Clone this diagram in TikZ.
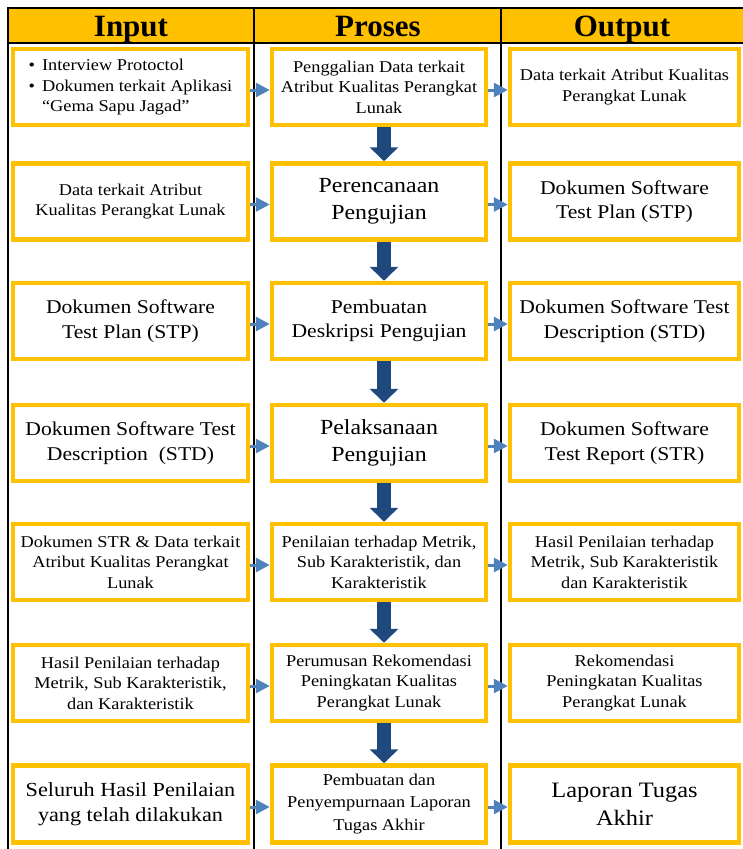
\documentclass[tikz,border=0pt]{standalone}
\usepackage{fontspec}
\setmainfont{Liberation Serif}[FakeStretch=1.11]
\newfontfamily\headfamily{Liberation Serif}
\usetikzlibrary{arrows.meta}
\definecolor{boxyellow}{HTML}{FFC000}
\definecolor{darkarrow}{HTML}{1F497D}
\definecolor{lightarrow}{HTML}{4F81BD}
\def\headfont{\headfamily\fontsize{31}{34}\selectfont\bfseries}
\def\smallfont{\fontsize{16.5}{20.5}\selectfont}
\def\midfont{\fontsize{19.5}{24.5}\selectfont}
\def\bigfont{\fontsize{21.5}{27}\selectfont}
\tikzset{cell/.style={draw=boxyellow, line width=4.5pt, fill=white, align=center,
        minimum height=76pt, inner sep=2pt, font=\smallfont},
    incol/.style={cell, minimum width=235pt},
    prcol/.style={cell, minimum width=214pt},
    outcol/.style={cell, minimum width=229pt},
    gridline/.style={draw=black, line width=2pt},
    sidearrow/.style={draw=lightarrow, line width=3pt, -{Triangle[length=14pt,width=14pt]}},
    downarrow/.style={draw=darkarrow, line width=14pt, -{Triangle[length=14pt,width=28pt]}}}

\begin{document}
\begin{tikzpicture}[x=1pt, y=-1pt]
    \useasboundingbox (0,0) rectangle (743,849);
    % table frame
    \fill[boxyellow] (8,8) rectangle (743,43);
    \draw[gridline] (8,849) -- (8,8) -- (743,8);
    \draw[gridline] (8,43) -- (743,43);
    \draw[gridline] (254,8) -- (254,849);
    \draw[gridline] (501,8) -- (501,849);
    \node[font=\headfont, anchor=base] (hIn) at (131,36) {Input};
    \node[font=\headfont, anchor=base] (hPr) at (378,36) {Proses};
    \node[font=\headfont, anchor=base] (hOut) at (622,36) {Output};
    % row 1
    \node[incol] (in1) at (130.5,87) {\begin{tabular}{@{}l@{\hspace{7pt}}l@{}}
        \textbullet & Interview Protoctol\\
        \textbullet & Dokumen terkait Aplikasi\\
        & “Gema Sapu Jagad”
        \end{tabular}};
    \node[prcol] (pr1) at (379,87) {Penggalian Data terkait\\Atribut Kualitas Perangkat\\Lunak};
    \node[outcol] (out1) at (624.5,87) {Data terkait Atribut Kualitas\\Perangkat Lunak};
    % row 2
    \node[incol] (in2) at (130.5,201.5) {Data terkait Atribut\\Kualitas Perangkat Lunak};
    \node[prcol, font=\bigfont] (pr2) at (379,201.5) {Perencanaan\\Pengujian};
    \node[outcol, font=\midfont] (out2) at (624.5,201.5) {Dokumen Software\\Test Plan (STP)};
    % row 3
    \node[incol, font=\midfont] (in3) at (130.5,321) {Dokumen Software\\Test Plan (STP)};
    \node[prcol, font=\midfont] (pr3) at (379,321) {Pembuatan\\Deskripsi Pengujian};
    \node[outcol, font=\midfont] (out3) at (624.5,321) {Dokumen Software Test\\Description (STD)};
    % row 4
    \node[incol, font=\midfont] (in4) at (130.5,443) {Dokumen Software Test\\Description\ \ (STD)};
    \node[prcol, font=\bigfont] (pr4) at (379,443) {Pelaksanaan\\Pengujian};
    \node[outcol, font=\midfont] (out4) at (624.5,443) {Dokumen Software\\Test Report (STR)};
    % row 5
    \node[incol] (in5) at (130.5,562) {Dokumen STR \& Data terkait\\Atribut Kualitas Perangkat\\Lunak};
    \node[prcol] (pr5) at (379,562) {Penilaian terhadap Metrik,\\Sub Karakteristik, dan\\Karakteristik};
    \node[outcol] (out5) at (624.5,562) {Hasil Penilaian terhadap\\Metrik, Sub Karakteristik\\dan Karakteristik};
    % row 6
    \node[incol] (in6) at (130.5,683) {Hasil Penilaian terhadap\\Metrik, Sub Karakteristik,\\dan Karakteristik};
    \node[prcol] (pr6) at (379,683) {Perumusan Rekomendasi\\Peningkatan Kualitas\\Perangkat Lunak};
    \node[outcol] (out6) at (624.5,683) {Rekomendasi\\Peningkatan Kualitas\\Perangkat Lunak};
    % row 7
    \node[incol, minimum height=77pt, font=\fontsize{20}{25}\selectfont] (in7) at (130.5,804) {Seluruh Hasil Penilaian\\yang telah dilakukan};
    \node[prcol, minimum height=77pt, font=\fontsize{16.5}{22.5}\selectfont] (pr7) at (379,804) {Pembuatan dan\\Penyempurnaan Laporan\\Tugas Akhir};
    \node[outcol, minimum height=77pt, font=\fontsize{22}{28}\selectfont] (out7) at (624.5,804) {Laporan Tugas\\Akhir};
    % arrows
    \foreach \r in {1,...,7} {
        \draw[sidearrow] ([yshift=-3pt]in\r.east) -- ([yshift=-3pt]pr\r.west);
        \draw[sidearrow] ([yshift=-3pt]pr\r.east) -- ([yshift=-3pt]out\r.west);
    }
    \foreach \r/\s in {1/2,2/3,3/4,4/5,5/6,6/7}
        \draw[downarrow] ([xshift=5pt]pr\r.south) -- ([xshift=5pt]pr\s.north);
\end{tikzpicture}
\end{document}
